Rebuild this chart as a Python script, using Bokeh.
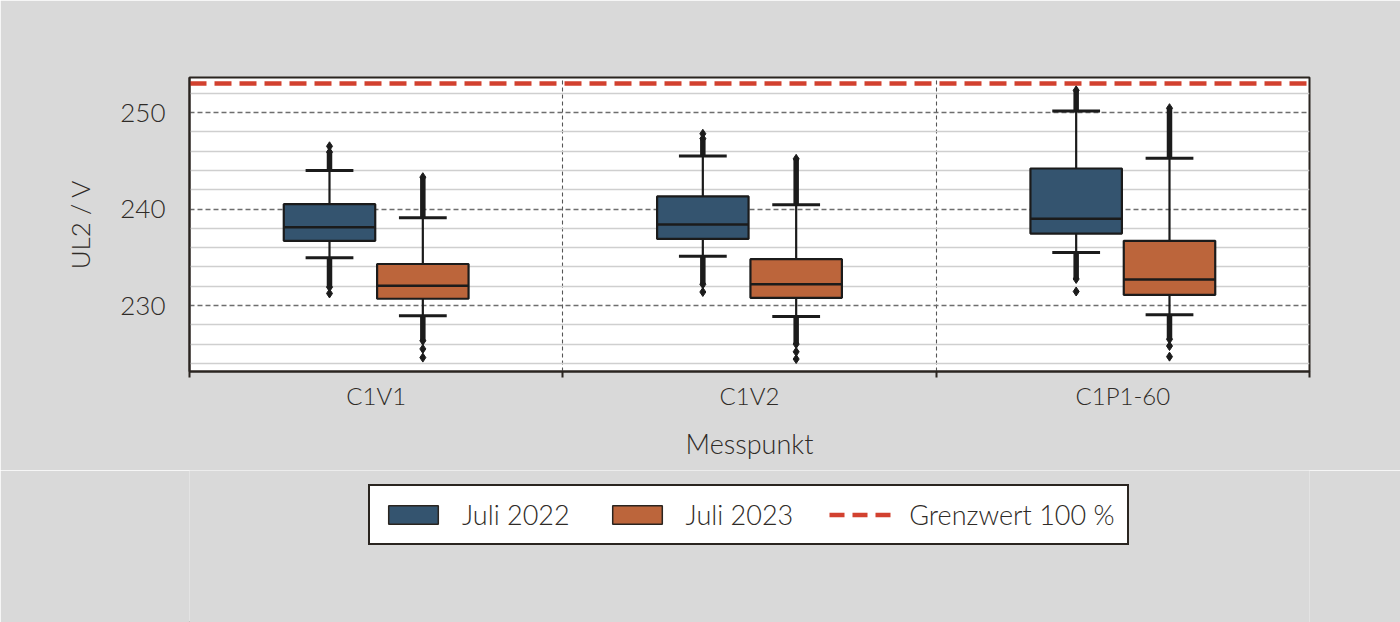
from bokeh.plotting import figure
from bokeh.layouts import column
from bokeh.models import ColumnDataSource, FixedTicker, Legend, LegendItem
from bokeh.embed import file_html
from bokeh.resources import INLINE

# ---------------- data ----------------
categories = ["C1V1", "C1V2", "C1P1-60"]
series = ["Juli 2022", "Juli 2023"]

q1_2022 = [236.7, 236.9, 237.45]
med_2022 = [238.1, 238.4, 239.0]
q3_2022 = [240.5, 241.3, 244.2]
lw_2022 = [234.95, 235.1, 235.5]
uw_2022 = [244.0, 245.5, 250.15]
hi_run_2022 = [245.9, 247.3, 252.3]
lo_run_2022 = [231.9, 232.2, 232.75]
hi_dots_2022 = [[246.5], [247.8], []]
lo_dots_2022 = [[231.25], [231.4], [231.45]]

q1_2023 = [230.7, 230.8, 231.1]
med_2023 = [232.05, 232.2, 232.7]
q3_2023 = [234.3, 234.8, 236.7]
lw_2023 = [228.95, 228.85, 229.05]
uw_2023 = [239.1, 240.45, 245.25]
hi_run_2023 = [243.3, 245.2, 250.45]
lo_run_2023 = [226.35, 226.0, 226.5]
hi_dots_2023 = [[], [], []]
lo_dots_2023 = [[225.5, 224.6], [225.2, 224.45], [225.8, 224.7]]

grenzwert = 253.0
y_major = [230, 240, 250]
y_minor = [224, 226, 228, 232, 234, 236, 238, 242, 244, 246, 248, 252]

# ---------------- styling ----------------
FONT = "Lato Light"
TXT = "#2f2b27"
BG = "#d9d9d9"
colors = ["#34546f", "#bc653b"]
offsets = [-0.125, 0.125]
BOX_W = 0.245
CAP_W = 0.128
EDGE = "#1b1b1b"
RED = "#d2412f"

p = figure(width=1400, height=470, output_backend="svg", toolbar_location=None,
           x_range=(-0.5, 2.5), y_range=(223.16, 253.63),
           min_border_left=189, min_border_right=91, min_border_top=77,
           min_border_bottom=99)
p.background_fill_color = "white"
p.border_fill_color = BG
p.outline_line_color = "#2a2520"
p.outline_line_width = 2

# grids
p.ygrid.ticker = FixedTicker(ticks=y_major, minor_ticks=y_minor)
p.ygrid.grid_line_color = "#6e6e6e"
p.ygrid.grid_line_dash = "5 3"
p.ygrid.grid_line_width = 1.3
p.ygrid.minor_grid_line_color = "#cfcfcf"
p.ygrid.minor_grid_line_width = 1.5
p.xgrid.ticker = FixedTicker(ticks=[0.5, 1.5])
p.xgrid.grid_line_color = "#555555"
p.xgrid.grid_line_dash = "4 3"
p.xgrid.grid_line_width = 1.1

# axes
p.xaxis.ticker = FixedTicker(ticks=[0, 1, 2], minor_ticks=[-0.5, 0.5, 1.5, 2.5])
p.xaxis.major_label_overrides = {i: c for i, c in enumerate(categories)}
p.xaxis.major_tick_out = 0
p.xaxis.major_tick_in = 0
p.xaxis.minor_tick_out = 6
p.xaxis.minor_tick_in = 0
p.xaxis.minor_tick_line_color = "#2a2520"
p.xaxis.minor_tick_line_width = 2
p.xaxis.axis_line_color = "#2a2520"
p.xaxis.axis_line_width = 2
p.xaxis.major_label_standoff = 3
p.xaxis.axis_label = "Messpunkt"
p.xaxis.axis_label_standoff = 14

p.yaxis.ticker = FixedTicker(ticks=y_major)
p.yaxis.major_tick_out = 0
p.yaxis.major_tick_in = 0
p.yaxis.minor_tick_out = 0
p.yaxis.minor_tick_in = 0
p.yaxis.axis_line_color = "#2a2520"
p.yaxis.axis_line_width = 2
p.yaxis.major_label_standoff = 24
p.yaxis.axis_label = "UL2 / V"
p.yaxis.axis_label_standoff = 21

for ax in (p.xaxis[0], p.yaxis[0]):
    ax.major_label_text_font = FONT
    ax.axis_label_text_font = FONT
    ax.major_label_text_color = TXT
    ax.axis_label_text_color = TXT
    ax.axis_label_text_font_style = "normal"
    ax.axis_label_text_font_size = "26px"
p.xaxis.axis_label_text_font_size = "27px"
p.xaxis.major_label_text_font_size = "24px"
p.yaxis.major_label_text_font_size = "26px"

# limit line
p.hspan(y=[grenzwert], line_color=RED, line_width=4.5, line_dash="17 8")

data = [
    (q1_2022, med_2022, q3_2022, lw_2022, uw_2022, hi_run_2022, lo_run_2022, hi_dots_2022, lo_dots_2022),
    (q1_2023, med_2023, q3_2023, lw_2023, uw_2023, hi_run_2023, lo_run_2023, hi_dots_2023, lo_dots_2023),
]

for s, (q1, med, q3, lw, uw, hr, lr, hd, ld) in enumerate(data):
    xs = [i + offsets[s] for i in range(len(categories))]
    src = ColumnDataSource(dict(
        x=xs, q1=q1, med=med, q3=q3, lw=lw, uw=uw, hr=hr, lr=lr,
        bl=[x - BOX_W / 2 for x in xs], br=[x + BOX_W / 2 for x in xs],
        cl=[x - CAP_W / 2 for x in xs], cr=[x + CAP_W / 2 for x in xs],
    ))
    # whiskers
    p.segment(x0="x", x1="x", y0="q3", y1="uw", source=src, line_color=EDGE, line_width=2.2)
    p.segment(x0="x", x1="x", y0="q1", y1="lw", source=src, line_color=EDGE, line_width=2.2)
    # dense outlier runs
    p.segment(x0="x", x1="x", y0="uw", y1="hr", source=src, line_color=EDGE, line_width=5.5)
    p.segment(x0="x", x1="x", y0="lw", y1="lr", source=src, line_color=EDGE, line_width=5.5)
    p.scatter(x="x", y="hr", source=src, marker="diamond", size=9, fill_color=EDGE, line_color=EDGE)
    p.scatter(x="x", y="lr", source=src, marker="diamond", size=9, fill_color=EDGE, line_color=EDGE)
    # caps
    p.segment(x0="cl", x1="cr", y0="uw", y1="uw", source=src, line_color=EDGE, line_width=3)
    p.segment(x0="cl", x1="cr", y0="lw", y1="lw", source=src, line_color=EDGE, line_width=3)
    # boxes
    p.vbar(x="x", width=BOX_W, bottom="q1", top="q3", source=src,
           fill_color=colors[s], line_color=EDGE, line_width=2.2)
    p.segment(x0="bl", x1="br", y0="med", y1="med", source=src, line_color=EDGE, line_width=2.5)
    # isolated outliers
    dx, dy = [], []
    for i in range(len(categories)):
        for v in hd[i] + ld[i]:
            dx.append(xs[i])
            dy.append(v)
    p.scatter(x=dx, y=dy, marker="diamond", size=9, fill_color=EDGE, line_color=EDGE)

# ---------------- legend strip (separate figure below the chart) ----------------
# (its frame is aligned with the chart frame by the column layout)
lf = figure(width=1400, height=152, output_backend="svg", toolbar_location=None,
            x_range=(0, 1), y_range=(0, 1), min_border=0)
lf.axis.visible = False
lf.grid.visible = False
lf.outline_line_color = None
lf.background_fill_color = BG
lf.border_fill_color = BG
# proxy renderers that only provide the legend swatches (placed outside the visible range)
leg_boxes = [lf.vbar(x=[-5], bottom=[-5], top=[-4], width=0.1, fill_color=c,
                     line_color="#2a2520", line_width=1.5) for c in colors]
leg_red = lf.hspan(y=[-5], line_color=RED, line_width=4.5, line_dash="15 8")

legend = Legend(items=[
    LegendItem(label=series[0], renderers=[leg_boxes[0]]),
    LegendItem(label=series[1], renderers=[leg_boxes[1]]),
    LegendItem(label="Grenzwert 100 %", renderers=[leg_red]),
], orientation="horizontal", location=(179, 77))
legend.glyph_width = 62
legend.glyph_height = 23
legend.label_height = 23
legend.label_standoff = 18
legend.spacing = 36
legend.padding = 12
legend.margin = 0
legend.border_line_color = "#2a2520"
legend.border_line_width = 2
legend.border_line_alpha = 1
legend.background_fill_color = "white"
legend.background_fill_alpha = 1
legend.label_text_font = FONT
legend.label_text_font_size = "27px"
legend.label_text_color = TXT
lf.add_layout(legend, "center")

open("out.html", "w").write(file_html(column(p, lf, spacing=0), INLINE))
